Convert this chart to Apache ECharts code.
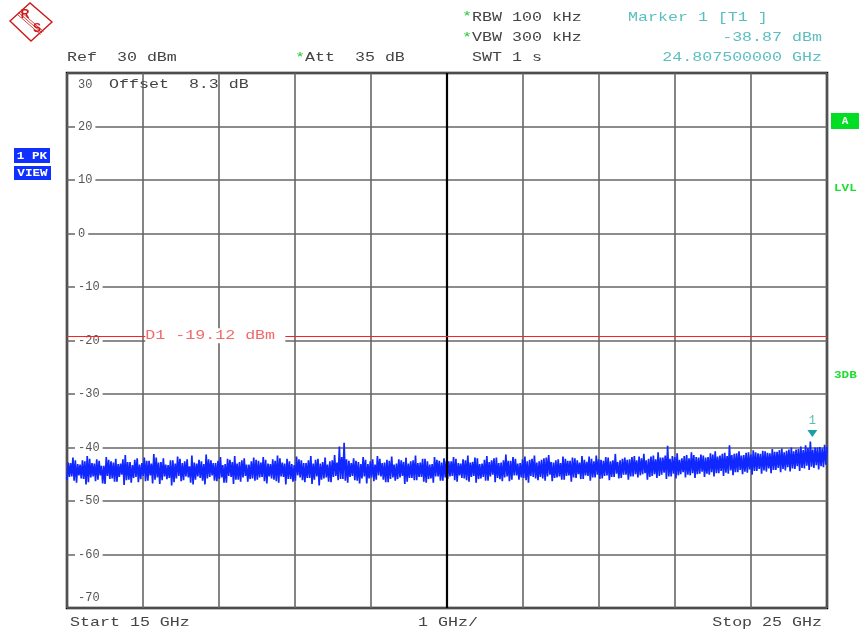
<!DOCTYPE html>
<html><head><meta charset="utf-8">
<script src="https://cdn.jsdelivr.net/npm/echarts@6.0.0/dist/echarts.min.js"></script>
<style>html,body{margin:0;padding:0;background:#fff}#c{width:861px;height:634px}</style>
</head><body><div id="c"></div>
<script>
// ---- data ----
const startGHz = 15, stopGHz = 25, divGHz = 1;
const refLevel = 30, bottomLevel = -70, divDb = 10;
const displayLineDbm = -19.12;
const displayLabelGHz = 16.03;
const markerFreqGHz = 24.8075, markerLevelDbm = -38.87;
const centerGHz = 20;

// sweep read as four interleaved sample groups (dBm)
const traceHigh = [
 -42.8,-41.9,-43.1,-42.4,-41.6,-42.9,-42.2,-43.4,-41.8,-42.6,-42.1,-43.0,-41.4,-42.7,-42.3,-43.2,-41.9,-42.5,-41.2,-42.8,
 -42.0,-43.3,-42.4,-41.7,-42.9,-42.2,-41.5,-43.0,-42.6,-41.3,-42.4,-42.9,-41.8,-43.1,-42.3,-41.6,-42.7,-42.0,-43.2,-41.9,
 -42.5,-41.8,-43.0,-42.2,-41.5,-42.8,-42.1,-43.1,-41.7,-42.4,-42.9,-41.6,-42.3,-43.0,-41.9,-42.6,-41.4,-39.8,-39.1,-42.5,
 -42.0,-42.7,-41.8,-43.1,-42.2,-41.6,-42.9,-42.3,-41.7,-43.0,-42.4,-41.9,-42.6,-41.5,-42.8,-42.1,-43.2,-41.8,-42.5,-42.0,
 -42.6,-41.8,-42.9,-42.2,-41.5,-42.7,-42.0,-43.0,-41.6,-42.4,-41.9,-42.8,-41.3,-42.5,-42.1,-42.9,-41.7,-42.3,-41.5,-42.6,
 -42.0,-41.4,-42.8,-42.2,-41.7,-42.5,-41.9,-42.4,-41.6,-42.7,-42.1,-41.5,-42.3,-41.8,-42.6,-41.2,-42.4,-41.9,-42.2,-41.6,
 -41.7,-41.2,-42.1,-41.5,-40.9,-41.9,-39.7,-41.6,-41.1,-42.0,-41.4,-40.9,-41.8,-41.3,-41.9,-41.1,-40.7,-41.5,-41.0,-39.6,
 -41.2,-40.7,-41.4,-40.9,-40.5,-41.1,-40.6,-41.0,-40.3,-40.8,-40.2,-40.6,-40.0,-40.4,-39.8,-39.6,-38.9,-40.0,-39.9,-39.5
];
const traceLow = [
 -46.1,-45.4,-46.6,-45.8,-46.9,-45.6,-46.3,-45.2,-46.8,-45.9,-46.4,-45.5,-47.0,-46.0,-45.7,-46.5,-45.3,-46.2,-46.7,-45.6,
 -46.1,-45.9,-47.1,-45.8,-46.3,-45.4,-46.6,-46.0,-45.7,-46.9,-45.5,-46.2,-45.9,-46.6,-45.3,-46.8,-46.0,-45.6,-46.4,-45.8,
 -46.0,-45.5,-46.7,-45.8,-46.3,-45.4,-46.9,-45.9,-46.2,-45.6,-46.5,-45.7,-46.0,-47.1,-45.8,-46.4,-45.5,-46.1,-45.9,-46.6,
 -45.3,-46.2,-45.8,-46.7,-45.6,-46.0,-45.4,-46.5,-45.9,-46.2,-45.6,-46.8,-45.7,-46.1,-45.5,-46.4,-45.9,-46.6,-45.4,-46.2,
 -45.9,-45.3,-46.4,-45.7,-46.1,-45.5,-46.6,-45.8,-46.2,-45.4,-46.5,-45.9,-45.6,-46.3,-45.2,-46.0,-45.7,-46.6,-45.5,-46.1,
 -45.8,-45.4,-46.3,-45.6,-46.0,-45.3,-46.4,-45.7,-45.9,-45.2,-46.2,-45.6,-45.9,-45.3,-46.1,-45.5,-45.8,-45.1,-46.0,-45.4,
 -45.6,-45.0,-46.0,-45.3,-45.7,-45.1,-45.9,-45.4,-45.8,-45.0,-45.6,-45.2,-45.7,-44.9,-45.5,-45.1,-45.4,-44.8,-45.3,-44.9,
 -45.2,-44.6,-45.0,-44.7,-45.1,-44.4,-44.9,-44.5,-44.8,-44.2,-44.6,-44.3,-44.5,-44.0,-44.4,-43.9,-44.2,-43.8,-44.1,-43.7
];
const traceHigh2 = [
 -42.9,-42.4,-43.2,-42.6,-42.1,-43.0,-42.5,-43.4,-42.3,-42.8,-43.1,-42.2,-42.7,-43.3,-42.0,-42.9,-42.5,-43.0,-41.9,-42.7,
 -43.2,-42.4,-43.0,-42.1,-42.6,-43.5,-42.8,-42.3,-43.1,-42.2,-42.9,-42.5,-43.3,-42.1,-42.7,-43.0,-42.4,-43.2,-42.6,-42.3,
 -42.8,-42.3,-43.1,-42.5,-42.0,-43.0,-42.6,-43.3,-42.2,-42.9,-42.4,-43.0,-42.1,-42.7,-43.2,-42.4,-42.8,-41.8,-42.2,-42.9,
 -42.5,-43.1,-42.3,-42.6,-43.2,-42.1,-42.8,-42.5,-43.2,-42.2,-42.7,-43.0,-42.4,-42.9,-42.1,-42.6,-43.1,-42.3,-42.8,-42.5,
 -42.6,-42.1,-43.0,-42.4,-42.8,-41.9,-43.1,-42.3,-42.7,-42.0,-42.9,-42.4,-42.5,-41.8,-43.0,-42.2,-42.6,-42.1,-42.8,-42.3,
 -41.9,-42.7,-42.4,-42.9,-42.1,-42.5,-42.0,-42.8,-42.3,-41.7,-42.6,-42.2,-42.5,-41.9,-42.4,-42.7,-42.1,-42.3,-41.8,-42.4,
 -42.0,-42.4,-41.7,-42.2,-41.9,-41.5,-42.1,-41.8,-42.3,-41.6,-42.0,-41.4,-41.9,-41.5,-41.8,-41.3,-41.7,-41.2,-41.6,-41.4,
 -41.1,-41.5,-41.0,-41.3,-40.9,-41.2,-40.7,-41.1,-40.8,-40.5,-40.9,-40.4,-40.7,-40.3,-40.5,-40.1,-40.4,-40.0,-40.2,-39.9
];
const traceLow2 = [
 -45.5,-46.2,-45.2,-45.9,-46.5,-45.4,-46.0,-46.7,-45.3,-45.8,-46.4,-45.1,-46.1,-46.6,-45.5,-45.9,-46.3,-45.2,-46.0,-46.8,
 -45.4,-45.7,-46.5,-45.3,-46.1,-45.6,-46.9,-45.4,-46.2,-45.8,-45.2,-46.3,-45.6,-46.6,-45.5,-46.0,-46.4,-45.3,-45.9,-46.2,
 -45.6,-46.3,-45.4,-46.0,-46.6,-45.5,-45.9,-46.4,-45.2,-46.1,-45.7,-46.8,-45.4,-46.0,-45.6,-46.5,-45.3,-45.9,-46.2,-45.5,
 -46.1,-46.7,-45.4,-45.8,-46.3,-45.2,-46.0,-46.5,-45.6,-45.9,-45.3,-46.4,-45.7,-46.1,-45.5,-46.6,-45.8,-45.4,-46.2,-45.6,
 -45.4,-46.1,-45.2,-45.8,-46.4,-45.3,-45.9,-45.5,-46.2,-45.1,-45.7,-46.3,-45.4,-46.0,-45.2,-45.6,-46.1,-45.3,-45.8,-45.5,
 -46.2,-45.1,-45.7,-45.4,-46.0,-45.2,-45.6,-45.0,-45.9,-45.3,-45.6,-45.1,-45.8,-45.2,-45.5,-44.9,-45.7,-45.1,-45.4,-45.0,
 -45.2,-44.8,-45.5,-45.0,-45.3,-44.7,-45.4,-44.9,-45.2,-44.6,-45.1,-44.8,-45.0,-44.5,-44.9,-44.6,-44.8,-44.4,-44.7,-44.3,
 -44.6,-44.2,-44.5,-44.1,-44.4,-44.0,-44.3,-43.9,-44.2,-43.8,-44.0,-43.7,-43.9,-43.5,-43.8,-43.4,-43.6,-43.3,-43.5,-43.2
];

// ---- build trace (sweep points evenly spaced over span) ----
const groups = [traceLow, traceHigh, traceLow2, traceHigh2];
const nPts = traceHigh.length * groups.length;
const stepGHz = (stopGHz - startGHz) / (nPts - 1);
const trace = [];
for (let i = 0; i < traceHigh.length; i++) {
  for (let g = 0; g < groups.length; g++) {
    const k = i * groups.length + g;
    trace.push([startGHz + k * stepGHz, groups[g][i]]);
  }
}

const chart = echarts.init(document.getElementById('c'), null, {renderer: 'canvas'});
const MONO = '"Liberation Mono", "DejaVu Sans Mono", monospace';
const SX = 1.28;
function txt(x, y, s, color, align) {
  return {
    type: 'text', x: x, y: y, scaleX: SX, z: 100,
    style: {text: s, fill: color || '#333', font: '13px ' + MONO,
      textAlign: align || 'left', textVerticalAlign: 'middle'}
  };
}

chart.setOption({
  animation: false,
  backgroundColor: '#fff',
  grid: {left: 67, right: 34, top: 73, bottom: 26, show: true, borderColor: '#000', borderWidth: 2.5, containLabel: false},
  xAxis: {
    type: 'value', min: startGHz, max: stopGHz, interval: divGHz,
    axisLine: {show: false}, axisTick: {show: false}, axisLabel: {show: false},
    splitLine: {show: true, lineStyle: {color: '#666', width: 1.6}}
  },
  yAxis: {
    type: 'value', min: bottomLevel, max: refLevel, interval: divDb,
    axisLine: {show: false}, axisTick: {show: false},
    splitLine: {show: true, lineStyle: {color: '#666', width: 1.6}},
    axisLabel: {
      inside: true, margin: 8, color: '#555', fontFamily: MONO, fontSize: 12,
      formatter: function (v) {
        if (v === refLevel) return '{t|' + v + '}';
        if (v === bottomLevel) return '{b|' + v + '}';
        return '{m|' + v + '}';
      },
      rich: {
        t: {padding: [24, 3, 0, 3], color: '#555', fontFamily: MONO, fontSize: 12},
        b: {padding: [0, 3, 20, 3], color: '#555', fontFamily: MONO, fontSize: 12},
        m: {padding: [0, 3, 0, 3], backgroundColor: '#fff', color: '#555', fontFamily: MONO, fontSize: 12}
      }
    }
  },
  series: [
    {
      type: 'line', data: [], z: 1,
      markLine: {silent: true, symbol: 'none', label: {show: false},
        lineStyle: {color: '#000', width: 2.2, type: 'solid'},
        data: [{xAxis: centerGHz}]}
    },
    {
      type: 'line', data: trace, showSymbol: false, sampling: null, z: 3, step: 'end',
      lineStyle: {color: '#1028ff', width: 1.7}, itemStyle: {color: '#1028ff'},
      markLine: {silent: true, symbol: 'none', label: {show: false},
        lineStyle: {color: '#ff2020', width: 1.2, type: 'solid'},
        data: [{yAxis: displayLineDbm}]},
      markPoint: {
        symbol: 'triangle', symbolRotate: 180, symbolSize: [10, 7], symbolOffset: [0, -8],
        itemStyle: {color: '#1aa0a0'},
        label: {show: true, formatter: '1', position: 'top', distance: 3, color: '#55bbbb',
          fontFamily: MONO, fontSize: 12},
        data: [{coord: [markerFreqGHz, markerLevelDbm]}]
      }
    }
  ]
});

const d1 = chart.convertToPixel({gridIndex: 0}, [displayLabelGHz, displayLineDbm]);

const graphics = [
  // R&S logo
  {type: 'polygon', shape: {points: [[10, 21], [30, 3], [52, 22], [31, 41]]},
   style: {fill: '#fff', stroke: '#cc1a1a', lineWidth: 1.4}},
  {type: 'line', shape: {x1: 19, y1: 13, x2: 42, y2: 33}, style: {stroke: '#cc1a1a', lineWidth: 0.8}},
  {type: 'line', shape: {x1: 20.5, y1: 11.5, x2: 43.5, y2: 31.5}, style: {stroke: '#cc1a1a', lineWidth: 0.8}},
  {type: 'line', shape: {x1: 17.5, y1: 14.5, x2: 40.5, y2: 34.5}, style: {stroke: '#cc1a1a', lineWidth: 0.8}},
  {type: 'text', x: 25, y: 15, style: {text: 'R', fill: '#cc1a1a', font: 'bold 12px "Liberation Sans"', textAlign: 'center', textVerticalAlign: 'middle'}},
  {type: 'text', x: 37, y: 29, style: {text: 'S', fill: '#cc1a1a', font: 'bold 12px "Liberation Sans"', textAlign: 'center', textVerticalAlign: 'middle'}},

  // header
  txt(462, 17, '*', '#22cc33'),
  txt(472, 18, 'RBW 100 kHz', '#444'),
  txt(462, 38, '*', '#22cc33'),
  txt(472, 38, 'VBW 300 kHz', '#444'),
  txt(472, 58, 'SWT 1 s', '#444'),
  txt(628, 18, 'Marker 1 [T1 ]', '#5bbfbf'),
  txt(822, 38, '-38.87 dBm', '#5bbfbf', 'right'),
  txt(822, 58, '24.807500000 GHz', '#5bbfbf', 'right'),
  txt(67, 58, 'Ref  30 dBm', '#444'),
  txt(295, 58, '*', '#22cc33'),
  txt(305, 58, 'Att  35 dB', '#444'),
  txt(109, 85, 'Offset  8.3 dB', '#444'),

  // footer
  txt(70, 623, 'Start 15 GHz', '#444'),
  txt(418, 623, '1 GHz/', '#444'),
  txt(822, 623, 'Stop 25 GHz', '#444', 'right'),

  // left boxes
  {type: 'rect', shape: {x: 14, y: 148, width: 36, height: 15}, style: {fill: '#1030ff'}},
  {type: 'text', x: 32, y: 156, scaleX: 1.15, style: {text: '1 PK', fill: '#fff', font: 'bold 11px ' + MONO, textAlign: 'center', textVerticalAlign: 'middle'}},
  {type: 'rect', shape: {x: 14, y: 166, width: 37, height: 14}, style: {fill: '#1030ff'}},
  {type: 'text', x: 32.5, y: 173, scaleX: 1.15, style: {text: 'VIEW', fill: '#fff', font: 'bold 11px ' + MONO, textAlign: 'center', textVerticalAlign: 'middle'}},

  // right side
  {type: 'rect', shape: {x: 831, y: 113, width: 28, height: 16}, style: {fill: '#00dd22'}},
  {type: 'text', x: 845, y: 121.5, style: {text: 'A', fill: '#fff', font: 'bold 11px ' + MONO, textAlign: 'center', textVerticalAlign: 'middle'}},
  {type: 'text', x: 834, y: 188, scaleX: 1.15, style: {text: 'LVL', fill: '#22dd33', font: 'bold 11px ' + MONO, textAlign: 'left', textVerticalAlign: 'middle'}},
  {type: 'text', x: 834, y: 375, scaleX: 1.15, style: {text: '3DB', fill: '#22dd33', font: 'bold 11px ' + MONO, textAlign: 'left', textVerticalAlign: 'middle'}},

  // display line label
  {type: 'text', x: d1[0], y: d1[1], scaleX: SX, z: 100,
   style: {text: 'D1 -19.12 dBm', fill: '#f06a6a', font: '13px ' + MONO, textAlign: 'left', textVerticalAlign: 'middle',
     backgroundColor: '#fff', padding: [1, 8, 1, 0]}}
];
chart.setOption({graphic: graphics});
</script>
</body></html>
